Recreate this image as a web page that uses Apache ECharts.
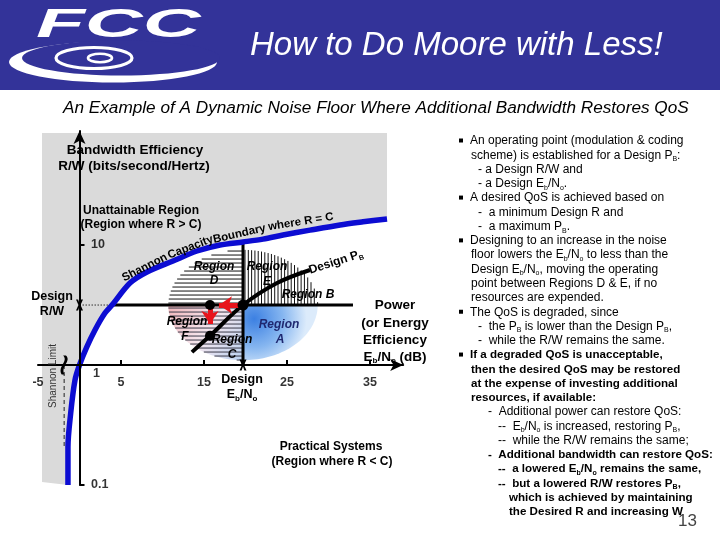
<!DOCTYPE html>
<html><head><meta charset="utf-8">
<script src="https://cdn.jsdelivr.net/npm/echarts@6/dist/echarts.min.js"></script>
<style>html,body{margin:0;padding:0;background:#fff}#c{width:720px;height:540px}</style>
</head><body><div id="c"></div>
<script>
// ---------------- data ----------------
// Shannon capacity boundary: Eb/No (dB) vs R/W (bits/s/Hz)
const boundaryEbNoDb = [-1.39, -1.39, -1.06, -0.54, 0, 0.87, 1.87, 3.07, 3.92, 6.08, 8.13, 11.27, 14.16, 16.93, 19.7, 22.11, 24.52, 27.77, 31.39, 34.16, 37.05];
const boundaryRw     = [0.10, 0.207, 0.398, 0.75, 1.0, 1.41, 1.96, 2.71, 3.16, 4.82, 5.96, 7.36, 8.91, 10.0, 10.6, 11.2, 12.1, 13.3, 14.7, 15.6, 16.5];
// Design P_B curve
const designPbEbNoDb = [13.55, 15.72, 19.7, 23.8, 27.77];
const designPbRw     = [1.28, 1.75, 3.16, 4.82, 6.19];
// operating point and moves
const designRw = 3.16;
const designEbNoDb = 19.7;
const designLineEndDb = 32.95;
const degradedEbNoDb = 15.72;
const restoredRw = 1.75;
const arrowLeftEndDb = 16.8;
const arrowDownEndRw = 2.2;
const shannonLimitDb = -1.85;
const shannonLimitLowRw = 0.207;
// unattainable (grey) region extents
const unattainableLeftDb = -4.52;
const unattainableTopRw = 85.7;
const unattainableBottomRw = 0.106;
// axis ticks / labels
const xTickDb = [5, 15, 25, 35];
const xLabelDb = [-5, 5, 15, 25, 35];
const yTickRw = [10, 0.1];
const yLabelRw = [10, 1, 0.1];
const yLabelText = ['10', '1', '0.1'];

// ---------------- layout / style constants ----------------
const FF = '"Liberation Sans", Arial, Helvetica, sans-serif';
const regionHalfWidthDb = 9.0;
const regionHalfHeightDec = 0.46;
const lg = Math.log10;

function richText(str, b, s) {
  return str.split(/(_\w)/).filter(p => p !== '').map(p => p[0] === '_' ? '{' + s + '|' + p.slice(1) + '}' : '{' + b + '|' + p + '}').join('');
}
function T(str, x, y, o) {
  o = o || {};
  const size = o.size || 12, weight = o.weight || 'bold', fst = o.fstyle || 'normal', color = o.color || '#000';
  const sub = Math.max(6, Math.round(size * 0.62));
  return {
    type: 'text', x: x, y: y, rotation: (o.rot || 0) * Math.PI / 180, z: 100, silent: true,
    scaleX: o.sx || 1,
    style: {
      text: richText(str, 'n', 's'),
      align: o.align || 'center', textAlign: o.align || 'center',
      verticalAlign: o.va || 'middle', textVerticalAlign: o.va || 'middle',
      fontSize: size, fontFamily: FF, fill: color,
      rich: {
        n: {fontSize: size, fontWeight: weight, fontStyle: fst, fontFamily: FF, fill: color, color: color, lineHeight: size + 3},
        s: {fontSize: sub, fontWeight: weight, fontStyle: fst, fontFamily: FF, fill: color, color: color, verticalAlign: 'bottom', lineHeight: sub + 1}
      }
    }
  };
}

// right-hand notes
const notes = [
  ['An operating point (modulation & coding', 'bullet', 0],
  ['scheme) is established for a Design P_B:', 'cont', 0],
  ['- a Design R/W and', 'dash', 0],
  ['- a Design E_b/N_o.', 'dash', 0],
  ['A desired QoS is achieved based on', 'bullet', 0],
  ['-  a minimum Design R and', 'dash', 0],
  ['-  a maximum P_B.', 'dash', 0],
  ['Designing to an increase in the noise', 'bullet', 0],
  ['floor lowers the E_b/N_o to less than the', 'cont', 0],
  ['Design E_b/N_o, moving the operating', 'cont', 0],
  ['point between Regions D & E, if no', 'cont', 0],
  ['resources are expended.', 'cont', 0],
  ['The QoS is degraded, since', 'bullet', 0],
  ['-  the P_B is lower than the Design P_B,', 'dash', 0],
  ['-  while the R/W remains the same.', 'dash', 0],
  ['If a degraded QoS is unacceptable,', 'bullet', 1],
  ['then the desired QoS may be restored', 'cont', 1],
  ['at the expense of investing additional', 'cont', 1],
  ['resources, if available:', 'cont', 1],
  ['-  Additional power can restore QoS:', 'sub', 0],
  ['--  E_b/N_o is increased, restoring P_B,', 'subsub', 0],
  ['--  while the R/W remains the same;', 'subsub', 0],
  ['-  Additional bandwidth can restore QoS:', 'sub', 1],
  ['--  a lowered E_b/N_o remains the same,', 'subsub', 1],
  ['--  but a lowered R/W restores P_B,', 'subsub', 1],
  ['which is achieved by maintaining', 'subcont', 1],
  ['the Desired R and increasing W', 'subcont', 1]
];
const noteX = {bullet: 470, cont: 471, dash: 478, sub: 488, subsub: 498, subcont: 509};

const graphics = [];
// header band + logo
graphics.push({type: 'rect', shape: {x: 0, y: 0, width: 720, height: 90}, style: {fill: '#333399'}, z: -10, silent: true});
graphics.push({type: 'ellipse', shape: {cx: 113, cy: 62, rx: 104, ry: 20.5}, style: {fill: '#fff'}, z: -9, silent: true});
graphics.push({type: 'ellipse', shape: {cx: 121, cy: 58, rx: 99, ry: 17.5}, style: {fill: '#333399'}, z: -8, silent: true});
graphics.push({type: 'ellipse', shape: {cx: 94, cy: 58, rx: 38, ry: 10.5}, style: {fill: 'none', stroke: '#fff', lineWidth: 3.2}, z: -7, silent: true});
graphics.push({type: 'ellipse', shape: {cx: 100, cy: 58, rx: 12, ry: 4.2}, style: {fill: 'none', stroke: '#fff', lineWidth: 2.6}, z: -7, silent: true});
graphics.push({type: 'text', x: 36, y: 26, scaleX: 2.0, z: -6, silent: true,
  style: {text: 'FCC', fill: '#fff', fontSize: 40, fontWeight: 900, fontStyle: 'italic', fontFamily: FF, align: 'left', textAlign: 'left', verticalAlign: 'middle', textVerticalAlign: 'middle'}});
graphics.push({type: 'text', x: 250, y: 46, z: 100, silent: true,
  style: {text: 'How to Do Moore with Less!', fill: '#fff', fontSize: 33, fontStyle: 'italic', fontFamily: FF, align: 'left', textAlign: 'left', verticalAlign: 'middle', textVerticalAlign: 'middle'}});
graphics.push({type: 'text', x: 63, y: 108, z: 100, silent: true,
  style: {text: 'An Example of A Dynamic Noise Floor Where Additional Bandwidth Restores QoS', fill: '#000', fontSize: 17.2, fontStyle: 'italic', fontFamily: FF, align: 'left', textAlign: 'left', verticalAlign: 'middle', textVerticalAlign: 'middle'}});

// chart annotations
graphics.push(T('Bandwidth Efficiency', 135, 150, {size: 13.5}));
graphics.push(T('R/W (bits/second/Hertz)', 134, 166, {size: 13.5}));
graphics.push(T('Unattainable Region', 141, 211, {size: 12}));
graphics.push(T('(Region where R > C)', 141, 225, {size: 12}));
graphics.push(T('Design', 52, 297, {size: 12.5}));
graphics.push(T('R/W', 52, 312, {size: 12.5}));
graphics.push(T('Power', 395, 305, {size: 13.5}));
graphics.push(T('(or Energy', 395, 323, {size: 13.5}));
graphics.push(T('Efficiency', 395, 340, {size: 13.5}));
graphics.push(T('E_b/N_o (dB)', 395, 357, {size: 13.5}));
graphics.push(T('Design', 242, 380, {size: 12.5}));
graphics.push(T('E_b/N_o', 242, 395, {size: 12.5}));
graphics.push(T('Practical Systems', 331, 447, {size: 12}));
graphics.push(T('(Region where R < C)', 332, 462, {size: 12}));
graphics.push(T('Shannon Limit', 53, 376, {size: 10, weight: 'normal', color: '#333', rot: 90}));
// along-curve texts
graphics.push(T('Shannon', 148, 274, {size: 11.5, rot: 27, va: 'bottom'}));
graphics.push(T('Capacity', 193, 254, {size: 11.5, rot: 21, va: 'bottom'}));
graphics.push(T('Boundary', 241, 241, {size: 11.5, rot: 13, va: 'bottom'}));
graphics.push(T('where R = C', 302, 229, {size: 11.5, rot: 9, va: 'bottom'}));
graphics.push(T('Design P_B', 336, 262, {size: 12, rot: 18}));
// region labels
const RI = {size: 12, fstyle: 'italic'};
graphics.push(T('Region', 214, 267, RI)); graphics.push(T('D', 214, 281, RI));
graphics.push(T('Region', 267, 267, RI)); graphics.push(T('E', 267, 282, RI));
graphics.push(T('Region B', 308, 295, RI));
graphics.push(T('Region', 279, 325, Object.assign({}, RI, {color: '#1f2870'}))); graphics.push(T('A', 280, 340, Object.assign({}, RI, {color: '#1f2870'})));
graphics.push(T('Region', 187, 322, RI)); graphics.push(T('F', 185, 337, RI));
graphics.push(T('Region', 232, 340, RI)); graphics.push(T('C', 232, 355, RI));

// notes
notes.forEach((n, i) => {
  const y = 141 + i * 14.27;
  const o = {size: n[2] ? 11.6 : 12, weight: n[2] ? 'bold' : 'normal', align: 'left'};
  graphics.push(T(n[0], noteX[n[1]], y, o));
  if (n[1] === 'bullet') graphics.push({type: 'rect', shape: {x: 459, y: y - 2.5, width: 4, height: 4}, style: {fill: '#000'}, z: 100, silent: true});
});
graphics.push(T('13', 697, 521, {size: 17, weight: 'normal', color: '#444', align: 'right'}));

// ---------------- series ----------------
function renderUnattainable(params, api) {
  const last = boundaryEbNoDb.length - 1;
  const pts = [[unattainableLeftDb, unattainableTopRw], [boundaryEbNoDb[last], unattainableTopRw]];
  for (let i = last; i >= 0; i--) pts.push([boundaryEbNoDb[i], boundaryRw[i]]);
  pts.push([unattainableLeftDb, unattainableBottomRw]);
  return {type: 'polygon', shape: {points: pts.map(q => api.coord([q[0], lg(q[1])]))}, style: {fill: '#dadada'}};
}
function renderRegions(params, api) {
  const c = api.coord([designEbNoDb, lg(designRw)]);
  const cx = c[0], cy = c[1];
  const rx = api.coord([designEbNoDb + regionHalfWidthDb, lg(designRw)])[0] - cx;
  const ry = cy - api.coord([designEbNoDb, lg(designRw) + regionHalfHeightDec])[1];
  const quad = (sx, sy) => {
    const pts = [[cx, cy]];
    for (let i = 0; i <= 40; i++) {
      const a = i / 40 * Math.PI / 2;
      pts.push([cx + sx * rx * Math.cos(a), cy + sy * ry * Math.sin(a)]);
    }
    return pts;
  };
  const ch = [];
  ch.push({type: 'polygon', shape: {points: quad(-1, 1)}, style: {fill: new echarts.graphic.LinearGradient(0, 0, 1, 1, [
    {offset: 0, color: '#f2b6ba'}, {offset: 0.5, color: '#f5e6ee'}, {offset: 1, color: '#b9d1f0'}])}});
  ch.push({type: 'polygon', shape: {points: quad(1, 1)}, style: {fill: new echarts.graphic.RadialGradient(0.15, 0.25, 0.95, [
    {offset: 0, color: '#3c80e2'}, {offset: 0.55, color: '#86b6f0'}, {offset: 1, color: '#dcebfb'}])}});
  const ln = (x1, y1, x2, y2, col) => ({type: 'line', shape: {x1: x1, y1: y1, x2: x2, y2: y2}, style: {stroke: col, lineWidth: 1}});
  for (let dy = 2; dy < ry; dy += 4) {
    const h = rx * Math.sqrt(1 - (dy / ry) * (dy / ry));
    ch.push(ln(cx - h, cy - dy, cx, cy - dy, '#111'));
  }
  for (let dy = 3; dy < ry; dy += 4) {
    const h = rx * Math.sqrt(1 - (dy / ry) * (dy / ry));
    ch.push(ln(cx - h, cy + dy, cx, cy + dy, '#3a3a4a'));
  }
  for (let dx = 2; dx < rx; dx += 3.3) {
    const h = ry * Math.sqrt(1 - (dx / rx) * (dx / rx));
    ch.push(ln(cx + dx, cy, cx + dx, cy - h, '#111'));
  }
  return {type: 'group', children: ch};
}
const xSym = 'path://M0,0L3,0L5,5L7,0L10,0L6.5,7L10,14L7,14L5,9L3,14L0,14L3.5,7Z';
const squiggle = 'path://M5,0C9,5 1,9 4,16L6,16C3,9 11,5 7,0Z';
const tickLabelStyle = {show: true, fontSize: 12.5, fontWeight: 'bold', color: '#000', fontFamily: FF};

const option = {
  backgroundColor: '#fff',
  animation: false,
  grid: {left: 38, right: 316.8, top: 131, bottom: 55, containLabel: false},
  xAxis: {
    type: 'value', min: -5, max: 39, interval: 10, z: 10,
    axisLine: {onZero: true, lineStyle: {color: '#000', width: 2}, symbol: ['none', 'arrow'], symbolSize: [9, 13]},
    axisTick: {customValues: xTickDb, inside: true, length: 5, lineStyle: {color: '#000', width: 2}},
    axisLabel: {show: false},
    splitLine: {show: false}
  },
  yAxis: {
    type: 'value', min: -1, max: 1.95, z: 10,
    axisLine: {onZero: true, lineStyle: {color: '#000', width: 2}, symbol: ['none', 'arrow'], symbolSize: [9, 13]},
    axisTick: {customValues: yTickRw.map(lg), inside: true, length: 5, lineStyle: {color: '#000', width: 2}},
    axisLabel: {show: false},
    splitLine: {show: false}
  },
  graphic: {elements: graphics},
  series: [
    {type: 'custom', name: 'Unattainable', coordinateSystem: 'cartesian2d', clip: false, silent: true, z: 1, data: [[0, 0]], renderItem: renderUnattainable},
    {type: 'custom', name: 'Regions', coordinateSystem: 'cartesian2d', clip: false, silent: true, z: 2, data: [[designEbNoDb, lg(designRw)]], renderItem: renderRegions},
    {type: 'line', name: 'Shannon limit', z: 3, symbol: 'none', silent: true,
      data: [[shannonLimitDb, 0], [shannonLimitDb, lg(shannonLimitLowRw)]], lineStyle: {color: '#222', width: 1, type: [4, 3]}},
    {type: 'line', name: 'Design R/W dotted', z: 3, symbol: 'none', silent: true,
      data: [[0, lg(designRw)], [boundaryEbNoDb[8], lg(designRw)]], lineStyle: {color: '#333', width: 1, type: [1.5, 1.5]}},
    {type: 'line', name: 'Design R/W', z: 4, symbol: 'none', silent: true,
      data: [[boundaryEbNoDb[8], lg(designRw)], [designLineEndDb, lg(designRw)]], lineStyle: {color: '#000', width: 3}},
    {type: 'line', name: 'Design Eb/No', z: 4, symbol: 'none', silent: true,
      data: [[designEbNoDb, lg(boundaryRw[14])], [designEbNoDb, 0]], lineStyle: {color: '#000', width: 3}},
    {type: 'line', name: 'Design PB', z: 5, symbol: 'none', silent: true, smooth: 0.35,
      data: designPbEbNoDb.map((x, i) => [x, lg(designPbRw[i])]), lineStyle: {color: '#000', width: 4}},
    {type: 'line', name: 'Shannon capacity boundary', z: 6, symbol: 'none', silent: true, smooth: 0.3,
      data: boundaryEbNoDb.map((x, i) => [x, lg(boundaryRw[i])]), lineStyle: {color: '#0c0cd2', width: 5.5}},
    {type: 'lines', name: 'Moves', coordinateSystem: 'cartesian2d', z: 7, silent: true,
      symbol: ['none', 'arrow'], symbolSize: 13,
      lineStyle: {color: '#e8141c', width: 5, opacity: 1},
      data: [
        {coords: [[designEbNoDb - 0.4, lg(designRw)], [arrowLeftEndDb, lg(designRw)]]},
        {coords: [[degradedEbNoDb, lg(designRw)], [degradedEbNoDb, lg(arrowDownEndRw)]]}
      ]},
    {type: 'scatter', name: 'Points', z: 8, silent: true, symbolSize: 10, itemStyle: {color: '#000', opacity: 1},
      data: [[degradedEbNoDb, lg(designRw)], [degradedEbNoDb, lg(restoredRw)], {value: [designEbNoDb, lg(designRw)], symbolSize: 11}]},
    {type: 'scatter', name: 'Design marks', z: 11, silent: true, symbol: xSym, symbolSize: [7, 11], itemStyle: {color: '#000', opacity: 1},
      data: [[0, lg(designRw)], [designEbNoDb, 0]]},
    {type: 'scatter', name: 'Shannon limit tick', z: 11, silent: true, symbol: squiggle, symbolSize: [7, 19], itemStyle: {color: '#000', opacity: 1},
      data: [[shannonLimitDb, 0]]},
    {type: 'scatter', name: 'x tick labels', z: 12, silent: true, clip: false, symbolSize: 1, itemStyle: {color: 'rgba(0,0,0,0)'},
      label: Object.assign({}, tickLabelStyle, {position: 'bottom', distance: 11, formatter: p => String(p.value[0])}),
      data: xLabelDb.map(v => [v, 0])},
    {type: 'scatter', name: 'y tick labels', z: 12, silent: true, clip: false, symbolSize: 1, itemStyle: {color: 'rgba(0,0,0,0)'},
      label: Object.assign({}, tickLabelStyle, {position: 'right', distance: 11, formatter: p => yLabelText[p.dataIndex]}),
      data: yLabelRw.map(r => r === 1 ? {value: [0, lg(r)], label: {offset: [2, 9]}} : [0, lg(r)])}
  ]
};
const chart = echarts.init(document.getElementById('c'), null, {renderer: 'canvas', width: 720, height: 540});
chart.setOption(option);
</script>
</body></html>
